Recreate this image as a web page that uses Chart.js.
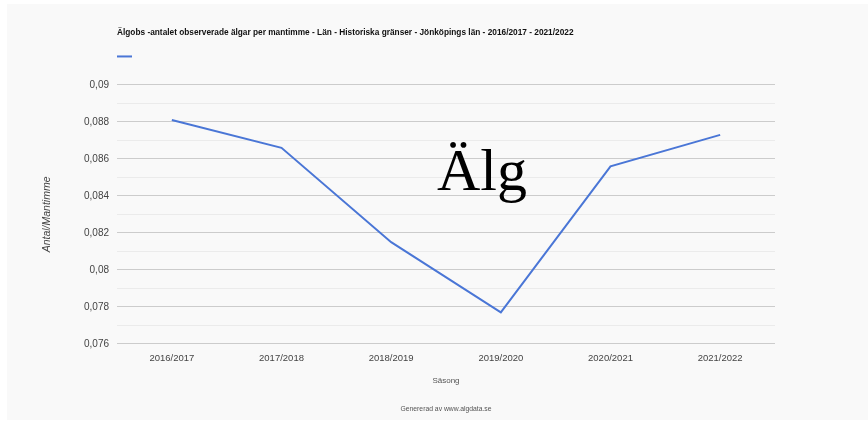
<!DOCTYPE html>
<html>
<head>
<meta charset="utf-8">
<script src="https://cdn.jsdelivr.net/npm/chart.js@4"></script>
<style>
    html, body { margin: 0; padding: 0; background: #ffffff; }
    #wrap { position: relative; width: 868px; height: 421px; }
    #panel { position: absolute; left: 7px; top: 4px; width: 861px; height: 416px; background: #f9f9f9; }
    #grafica { position: absolute; left: 0; top: 0; }
    #alg { position: absolute; left: 437px; top: 140px; font-family: "Liberation Serif", "Times New Roman", serif; font-size: 60px; line-height: 60px; color: #000; }
</style>
</head>
<body>
<div id="wrap">
    <div id="panel"></div>
    <canvas id="grafica" width="868" height="421"></canvas>
    <div id="alg">Älg</div>
</div>
<script>
// =========================
// DATA
// =========================
const sasonger = ["2016/2017", "2017/2018", "2018/2019", "2019/2020", "2020/2021", "2021/2022"];
const antalPerMantimme = [0.0881, 0.0866, 0.0815, 0.0777, 0.0856, 0.0873];
const yMin = 0.076;
const yMax = 0.09;
const yStep = 0.001;

const titel = "Älgobs -antalet observerade älgar per mantimme - Län - Historiska gränser - Jönköpings län - 2016/2017 - 2021/2022";
const yTitel = "Antal/Mantimme";
const xTitel = "Säsong";
const kalla = "Genererad av www.algdata.se";

const FONT = "'Liberation Sans', Arial, sans-serif";
const LINJE = "#4a76d6";

// huvudlinje varannan tick, annars ljus hjälplinje
function arHuvud(v) {
    return Math.round(v / yStep) % 2 === 0;
}

// =========================
// GRAF
// =========================
const ctx = document.getElementById("grafica").getContext("2d");

new Chart(ctx, {
    type: "line",
    data: {
        labels: sasonger,
        datasets: [{
            label: "",
            data: antalPerMantimme,
            borderColor: LINJE,
            backgroundColor: LINJE,
            borderWidth: 2,
            pointRadius: 0,
            tension: 0
        }]
    },
    options: {
        responsive: false,
        animation: false,
        layout: {
            padding: { left: 30, right: 93, top: 28, bottom: 8 }
        },
        plugins: {
            title: {
                display: true,
                text: titel,
                align: "start",
                fullSize: false,
                color: "#111",
                font: { family: FONT, size: 8.3, weight: "bold" },
                padding: { top: 0, bottom: 0 }
            },
            legend: {
                display: true,
                align: "start",
                fullSize: false,
                labels: {
                    boxWidth: 15,
                    boxHeight: 2,
                    padding: 0,
                    font: { size: 37 },
                    generateLabels: () => [{
                        text: "",
                        fillStyle: LINJE,
                        strokeStyle: LINJE,
                        lineWidth: 0,
                        datasetIndex: 0
                    }]
                }
            },
            subtitle: {
                display: true,
                text: kalla,
                position: "bottom",
                fullSize: false,
                color: "#555",
                font: { family: FONT, size: 6.8 },
                padding: { top: 19, bottom: 0 }
            },
            tooltip: { enabled: false }
        },
        scales: {
            x: {
                offset: true,
                grid: { display: false },
                border: { display: false },
                ticks: {
                    color: "#444",
                    font: { family: FONT, size: 9.5 },
                    padding: 1,
                    maxRotation: 0
                },
                title: {
                    display: true,
                    text: xTitel,
                    color: "#555",
                    font: { family: FONT, size: 8 },
                    padding: { top: 11, bottom: 0 }
                }
            },
            y: {
                min: yMin,
                max: yMax,
                afterFit: (scale) => { scale.width = 87; },
                grid: {
                    drawTicks: false,
                    color: (c) => arHuvud(c.tick.value) ? "#cccccc" : "#ebebeb",
                    lineWidth: 1
                },
                border: { display: false },
                ticks: {
                    stepSize: yStep,
                    autoSkip: false,
                    color: "#444",
                    padding: 8,
                    font: { family: FONT, size: 10 },
                    callback: (v) => arHuvud(v) ? String(Math.round(v * 1000) / 1000).replace(".", ",") : ""
                },
                title: {
                    display: true,
                    text: yTitel,
                    color: "#444",
                    font: { family: FONT, size: 10.5, style: "italic" },
                    padding: { top: 11, bottom: 0 }
                }
            }
        }
    }
});
</script>
</body>
</html>
